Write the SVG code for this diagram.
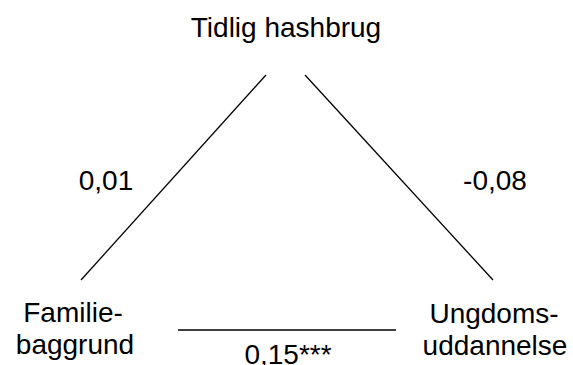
<svg xmlns="http://www.w3.org/2000/svg" width="573" height="365" viewBox="0 0 573 365">
<style>
text{font-family:"Liberation Sans",Arial,sans-serif;font-size:28px;fill:#000;text-anchor:middle}
.c line{stroke:#000;stroke-width:1.3}
</style>
<rect width="573" height="365" fill="#fff"/>
<g class="c" id="connectors">
<line x1="266" y1="75" x2="81" y2="280"/>
<line x1="305" y1="75" x2="493" y2="280"/>
<line x1="178" y1="330" x2="396" y2="330"/>
</g>
<g id="top"><text x="286" y="37">Tidlig hashbrug</text></g>
<g id="left"><text x="73" y="322">Familie-</text><text x="75" y="354">baggrund</text></g>
<g id="right"><text x="494" y="323">Ungdoms-</text><text x="495" y="355">uddannelse</text></g>
<g id="labels">
<text x="106" y="190">0,01</text>
<text x="495" y="190">-0,08</text>
<text x="288" y="364">0,15***</text>
</g>
</svg>
